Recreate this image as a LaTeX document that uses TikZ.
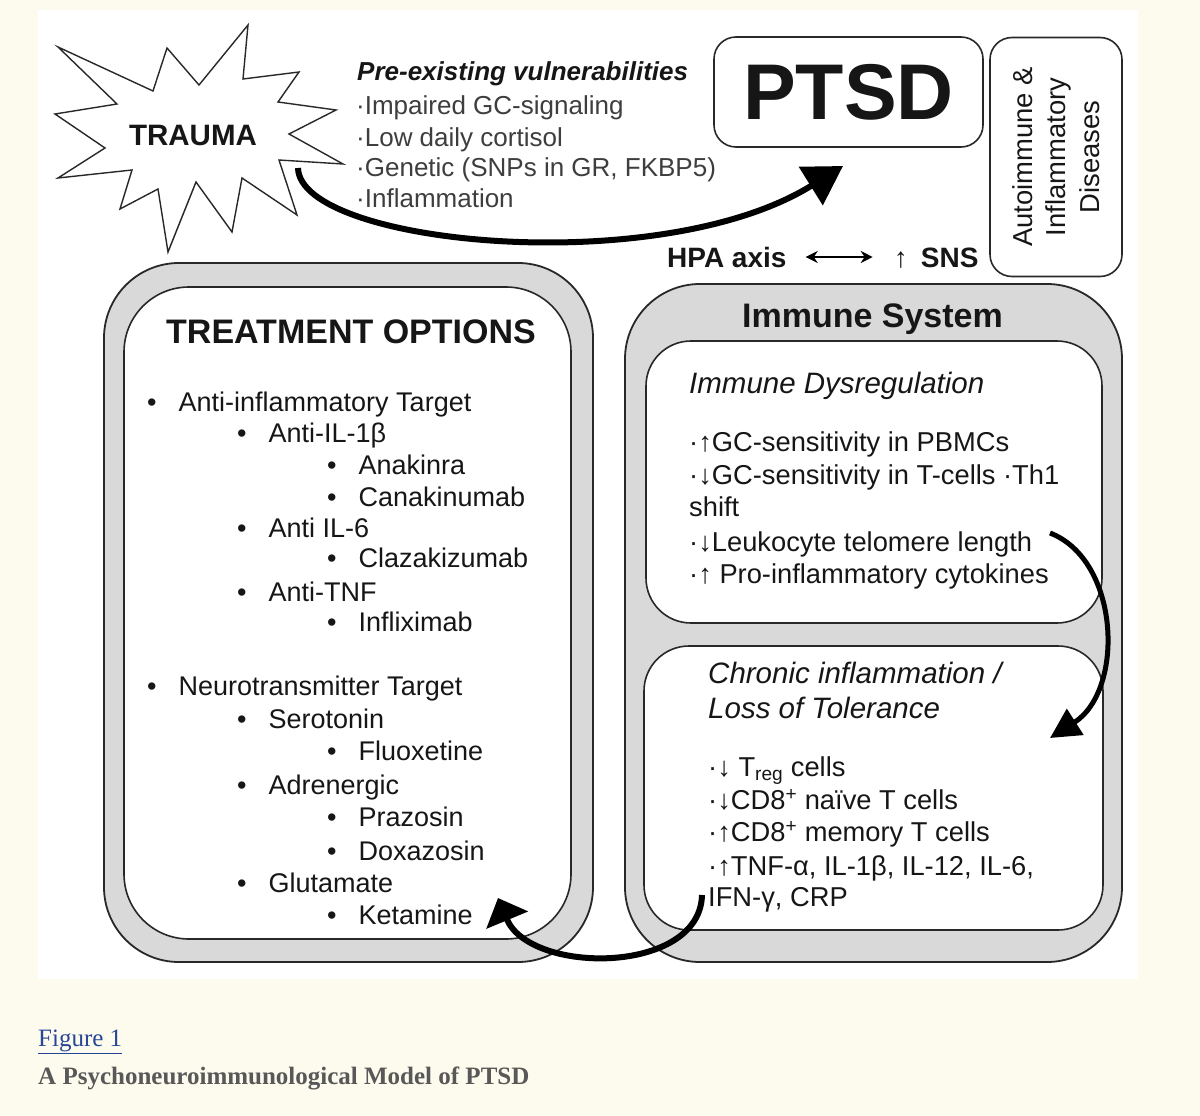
\documentclass[tikz,border=0pt]{standalone}
\usepackage{fontspec}
\setmainfont{Liberation Sans}
\newfontfamily\capfont{Liberation Serif}
\usetikzlibrary{positioning, arrows.meta}

\definecolor{pagecream}{RGB}{253,251,238}
\definecolor{bandgray}{RGB}{217,217,217}
\definecolor{edgegray}{RGB}{40,40,40}
\definecolor{textgray}{RGB}{62,62,62}
\definecolor{textblack}{RGB}{22,22,22}
\definecolor{linkblue}{RGB}{40,70,150}
\definecolor{captiongray}{RGB}{88,88,88}

\tikzset{
	outerbox/.style={draw=edgegray, line width=1.8pt, fill=bandgray, rounded corners=75pt, inner sep=0pt},
	innerbox/.style={draw=edgegray, line width=1.6pt, fill=white, inner sep=0pt},
	boxtitle/.style={inner sep=0pt, text=textblack, text height=24.3pt, text depth=0pt, font=\fontsize{34}{40}\selectfont\bfseries},
	listitem/.style={anchor=west, inner sep=0pt, text=textblack, text height=19.3pt, text depth=0pt, font=\fontsize{27}{32}\selectfont},
	immitem/.style={anchor=west, inner sep=0pt, text=textblack, text height=19.5pt, text depth=0pt, font=\fontsize{27.3}{33}\selectfont},
	immhead/.style={anchor=west, inner sep=0pt, text=textblack, text height=21pt, text depth=0pt, font=\fontsize{29.5}{33}\selectfont\itshape},
	vulnitem/.style={anchor=west, inner sep=0pt, text=textgray, text height=18.6pt, text depth=0pt, font=\fontsize{26}{31}\selectfont},
	axisitem/.style={anchor=west, inner sep=0pt, text=textblack, text height=20.2pt, text depth=0pt, font=\fontsize{28}{34}\selectfont\bfseries},
	bigarrow/.style={line width=6pt, draw=black},
}

\newcommand{\bul}{\makebox[31.5pt][l]{•}}

\begin{document}
\begin{tikzpicture}[x=1pt, y=-1pt]
	\useasboundingbox (0,0) rectangle (1200,1116);
	\fill[pagecream] (0,0) rectangle (1200,1116);
	\fill[white] (38,10) rectangle (1138,979);

	% trauma burst
	\draw[line width=1.4pt, draw=edgegray, fill=white] (58,47) -- (153,91) -- (167,48) -- (199,85) -- (248,25)
	-- (243,79) -- (299,72) -- (278,102) -- (336,110) -- (289,134) -- (343,164) -- (279,160)
	-- (297,215) -- (242,178) -- (232,232) -- (196,182) -- (168,252) -- (158,189) -- (120,209)
	-- (132,170) -- (58,178) -- (105,148) -- (55,114) -- (117,104) -- cycle;
	\node[inner sep=0pt, text=textblack, font=\fontsize{29.5}{34}\selectfont\bfseries] (trauma) at (193,135) {TRAUMA};

	% vulnerabilities
	\node[vulnitem, text=textblack, font=\fontsize{26}{31}\selectfont\bfseries\itshape] (vulnhead) at (357,71.7) {Pre-existing vulnerabilities};
	\node[vulnitem] (vuln1) at (356,105) {·Impaired GC-signaling};
	\node[vulnitem] (vuln2) at (356,136.7) {·Low daily cortisol};
	\node[vulnitem] (vuln3) at (356,166.7) {·Genetic (SNPs in GR, FKBP5)};
	\node[vulnitem] (vuln4) at (356,198.3) {·Inflammation};

	% ptsd and diseases
	\node[draw=edgegray, line width=1.6pt, rounded corners=22pt, minimum width=269pt, minimum height=110pt,
	text=textblack, font=\fontsize{79}{90}\selectfont\bfseries] (ptsd) at (848.5,92) {PTSD};
	\node[draw=edgegray, line width=1.6pt, rounded corners=22pt, rotate=90, minimum width=239pt, minimum height=132pt,
	align=center, text=textblack, font=\fontsize{27.4}{33.5}\selectfont] (autoimmune) at (1056,157) {Autoimmune \&\\Inflammatory\\Diseases};

	% hpa axis
	\node[axisitem] (hpa) at (667,257) {HPA axis};
	\node[axisitem, right=107pt of hpa] (sns) {↑\hspace{13pt}SNS};
	\draw[{Stealth[length=12pt,width=12pt]}-{Stealth[length=12pt,width=12pt]}, line width=2.2pt] ([xshift=19pt]hpa.east) -- ([xshift=-21pt]sns.west);

	% boxes
	\node[outerbox, minimum width=489pt, minimum height=699pt] (treatbox) at (348.5,612.5) {};
	\node[innerbox, rounded corners=65pt, minimum width=447pt, minimum height=652pt] (treatinner) at (347.5,613) {};
	\node[outerbox, minimum width=497pt, minimum height=678pt] (immunebox) at (873.5,623) {};
	\node[innerbox, rounded corners=45pt, minimum width=456pt, minimum height=282pt] (dysreg) at (874,482) {};
	\node[innerbox, rounded corners=45pt, minimum width=459pt, minimum height=284pt] (chronic) at (873.5,788) {};

	\node[boxtitle] (treattitle) at (351,331.7) {TREATMENT OPTIONS};
	\node[boxtitle] (immunetitle) at (872.5,315) {Immune System};

	% treatment list
	\node[listitem] (t1) at (147,401.7) {\bul Anti-inflammatory Target};
	\node[listitem] (t2) at (237,433.3) {\bul Anti-IL-1β};
	\node[listitem] (t3) at (327,465) {\bul Anakinra};
	\node[listitem] (t4) at (327,496.7) {\bul Canakinumab};
	\node[listitem] (t5) at (237,528.3) {\bul Anti IL-6};
	\node[listitem] (t6) at (327,558.3) {\bul Clazakizumab};
	\node[listitem] (t7) at (237,591.7) {\bul Anti-TNF};
	\node[listitem] (t8) at (327,621.7) {\bul Infliximab};
	\node[listitem] (t9) at (147,686) {\bul Neurotransmitter Target};
	\node[listitem] (t10) at (237,719) {\bul Serotonin};
	\node[listitem] (t11) at (327,751) {\bul Fluoxetine};
	\node[listitem] (t12) at (237,785) {\bul Adrenergic};
	\node[listitem] (t13) at (327,817) {\bul Prazosin};
	\node[listitem] (t14) at (327,851) {\bul Doxazosin};
	\node[listitem] (t15) at (237,883) {\bul Glutamate};
	\node[listitem] (t16) at (327,915) {\bul Ketamine};

	% immune dysregulation
	\node[immhead] (dysreghead) at (689,383.3) {Immune Dysregulation};
	\node[immitem] (d1) at (689,441.7) {·↑GC-sensitivity in PBMCs};
	\node[immitem] (d2) at (689,475) {·↓GC-sensitivity in T-cells ·Th1};
	\node[immitem] (d3) at (689,506.7) {shift};
	\node[immitem] (d4) at (689,541.7) {·↓Leukocyte telomere length};
	\node[immitem] (d5) at (689,573.3) {·↑ Pro-inflammatory cytokines};

	% chronic inflammation
	\node[immhead] (chronichead) at (708,673.3) {Chronic inflammation /};
	\node[immhead] (chronichead2) at (708,708.3) {Loss of Tolerance};
	\node[immitem] (c1) at (708,766.7) {·↓ T\textsubscript{reg} cells};
	\node[immitem] (c2) at (708,800) {·↓CD8\textsuperscript{+} naïve T cells};
	\node[immitem] (c3) at (708,831.7) {·↑CD8\textsuperscript{+} memory T cells};
	\node[immitem] (c4) at (708,866) {·↑TNF-α, IL-1β, IL-12, IL-6,};
	\node[immitem] (c5) at (708,896.7) {IFN-γ, CRP};

	% arrows
	\coordinate (traumatail) at (298,168);
	\coordinate (ptsdtip) at (843,166);
	\draw[bigarrow, -{Triangle[length=38pt,width=44pt]}] (traumatail) .. controls (300,245) and (660,280) .. (ptsdtip);

	\coordinate (dysregtail) at (1050,533);
	\coordinate (chronictip) at (1050,738);
	\draw[bigarrow, line width=5pt, -{Triangle[length=30pt,width=30pt]}] (dysregtail) .. controls (1120,560) and (1125,690) .. (chronictip);

	\coordinate (chronictail) at (702,895);
	\coordinate (treattip) at (498,898);
	\draw[bigarrow, -{Triangle[length=24pt,width=44pt]}] (chronictail) .. controls (700,975) and (530,975) .. (treattip);

	% caption
	\node[anchor=west, inner sep=0pt, text=linkblue, text height=16.5pt, text depth=0pt, font=\capfont\fontsize{25}{30}\selectfont] (figlabel) at (38,1038) {\underline{Figure 1}};
	\node[anchor=west, inner sep=0pt, text=captiongray, text height=16.5pt, text depth=0pt, font=\capfont\fontsize{25}{30}\selectfont\bfseries] (figcaption) at (38,1076) {A Psychoneuroimmunological Model of PTSD};
\end{tikzpicture}
\end{document}
